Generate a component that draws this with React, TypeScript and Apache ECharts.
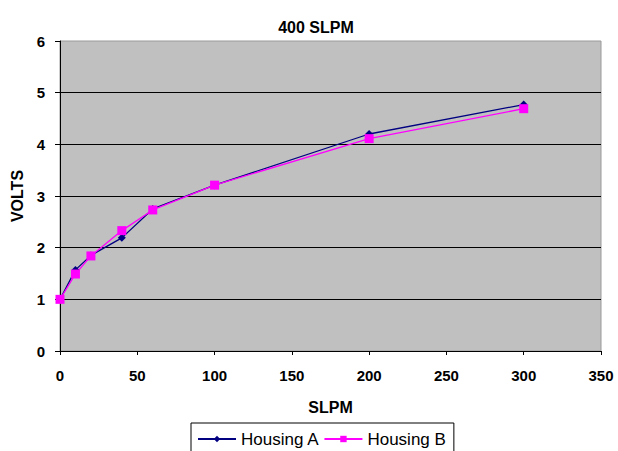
import React, { useEffect, useRef } from "react";
import * as echarts from "echarts";

const xValues = [0, 10, 20, 40, 60, 100, 200, 300];
const housingA = [1.0, 1.57, 1.85, 2.19, 2.75, 3.21, 4.2, 4.77];
const housingB = [1.0, 1.49, 1.84, 2.33, 2.73, 3.21, 4.11, 4.69];
const seriesNames = ["Housing A", "Housing B"];

export default function App() {
  const ref = useRef<HTMLDivElement>(null);
  useEffect(() => {
    const chart = echarts.init(ref.current!, null, { renderer: "svg" });
    const font = "'Liberation Sans', Arial, sans-serif";
    chart.setOption({
      animation: false,
      backgroundColor: "#ffffff",
      title: {
        text: "400 SLPM",
        left: 311,
        top: 14,
        textAlign: "center",
        textStyle: { fontFamily: font, fontSize: 16, fontWeight: "bold", color: "#000" },
      },
      grid: {
        left: 60,
        right: 17,
        top: 41,
        bottom: 100,
        show: true,
        backgroundColor: "#c0c0c0",
        borderColor: "#9a9a9a",
        borderWidth: 1,
      },
      legend: {
        left: 191,
        top: 423,
        padding: [6, 8, 6, 6],
        borderColor: "#000",
        borderWidth: 1,
        itemGap: 4,
        itemWidth: 38,
        itemHeight: 8,
        textStyle: { fontFamily: font, fontSize: 17, lineHeight: 20, color: "#000" },
        data: seriesNames,
      },
      xAxis: {
        type: "value",
        min: 0,
        max: 350,
        interval: 50,
        name: "SLPM",
        nameLocation: "middle",
        nameGap: 48,
        nameTextStyle: { fontFamily: font, fontSize: 16, fontWeight: "bold", color: "#000" },
        axisLine: { show: true, lineStyle: { color: "#000", width: 1 } },
        axisTick: { show: true, length: 4, lineStyle: { color: "#000" } },
        axisLabel: { fontFamily: font, fontSize: 15, fontWeight: "bold", color: "#000", margin: 17 },
        splitLine: { show: false },
      },
      yAxis: {
        type: "value",
        min: 0,
        max: 6,
        interval: 1,
        name: "VOLTS",
        nameLocation: "middle",
        nameGap: 34,
        nameRotate: 90,
        nameTextStyle: { fontFamily: font, fontSize: 16, fontWeight: "bold", color: "#000" },
        axisLine: { show: true, lineStyle: { color: "#000", width: 1 } },
        axisTick: { show: true, length: 5, lineStyle: { color: "#000" } },
        axisLabel: { fontFamily: font, fontSize: 15, fontWeight: "bold", color: "#000", margin: 15 },
        splitLine: { show: true, showMaxLine: false, lineStyle: { color: "#000", width: 1 } },
      },
      series: [
        {
          name: seriesNames[0],
          type: "line",
          smooth: false,
          data: xValues.map((x, i) => [x, housingA[i]]),
          symbol: "diamond",
          symbolSize: 8,
          lineStyle: { color: "#000080", width: 1.3 },
          itemStyle: { color: "#000080" },
        },
        {
          name: seriesNames[1],
          type: "line",
          smooth: false,
          data: xValues.map((x, i) => [x, housingB[i]]),
          symbol: "rect",
          symbolSize: 9,
          lineStyle: { color: "#ff00ff", width: 1.3 },
          itemStyle: { color: "#ff00ff" },
        },
      ],
    });
    return () => chart.dispose();
  }, []);
  return <div ref={ref} style={{ width: 618, height: 451, position: "absolute", left: 0, top: 0 }} />;
}
